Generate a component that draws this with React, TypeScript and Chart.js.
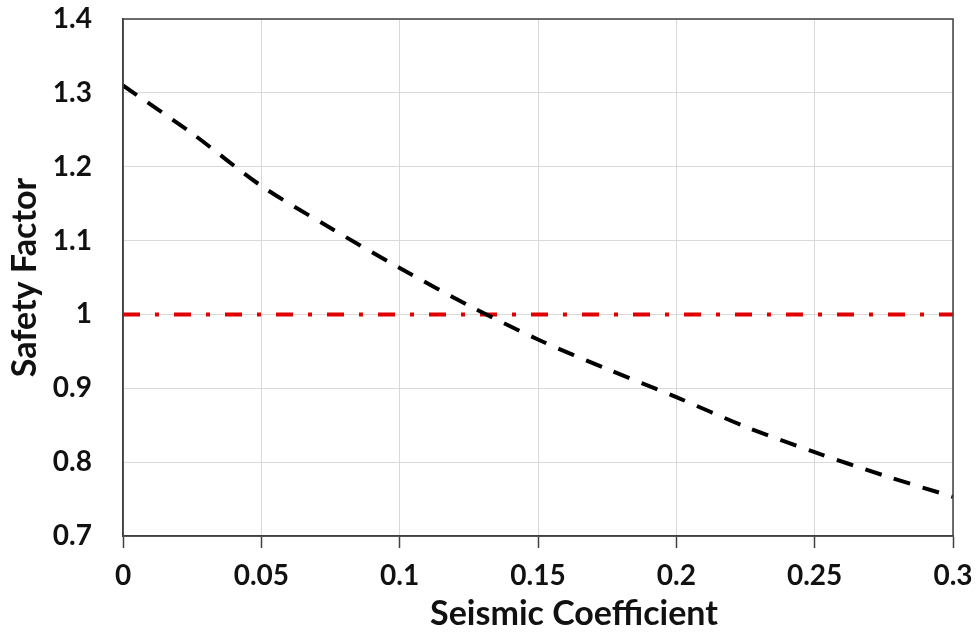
import React, { useEffect, useRef } from "react";
import { Chart, registerables } from "chart.js";

Chart.register(...registerables);

const seismicCoeff = [0, 0.025, 0.05, 0.075, 0.1, 0.125, 0.15, 0.175, 0.2, 0.225, 0.25, 0.275, 0.3];
const safetyFactor = [1.31, 1.245, 1.174, 1.117, 1.063, 1.012, 0.966, 0.926, 0.888, 0.848, 0.8135, 0.782, 0.753];
const thresholdX = [0, 0.3];
const thresholdY = [1, 1];
const xTicks = [0, 0.05, 0.1, 0.15, 0.2, 0.25, 0.3];
const xTickLabels = ["0", "0.05", "0.1", "0.15", "0.2", "0.25", "0.3"];
const yTicks = [0.7, 0.8, 0.9, 1, 1.1, 1.2, 1.3, 1.4];
const yTickLabels = ["0.7", "0.8", "0.9", "1", "1.1", "1.2", "1.3", "1.4"];
const xTitle = "Seismic Coefficient";
const yTitle = "Safety Factor";

const FONT = "Lato, 'Open Sans', sans-serif";
const AXIS_COLOR = "#404040";

export default function App() {
  const ref = useRef<HTMLCanvasElement | null>(null);

  useEffect(() => {
    if (!ref.current) return;
    const frame = {
      id: "frame",
      afterDatasetsDraw(chart: any) {
        const { ctx, chartArea: a } = chart;
        ctx.save();
        ctx.strokeStyle = AXIS_COLOR;
        ctx.lineWidth = 1.5;
        ctx.strokeRect(a.left, a.top, a.right - a.left, a.bottom - a.top);
        ctx.restore();
      },
      afterDraw(chart: any) {
        const { ctx } = chart;
        ctx.save();
        ctx.fillStyle = "#111";
        ctx.font = `bold 34px ${FONT}`;
        ctx.textAlign = "center";
        ctx.textBaseline = "middle";
        ctx.fillText(xTitle, 574, 614);
        ctx.restore();
      },
    };

    const chart = new Chart(ref.current, {
      type: "line",
      data: {
        datasets: [
          {
            label: "Safety Factor",
            data: seismicCoeff.map((x, i) => ({ x, y: safetyFactor[i] })),
            borderColor: "#000",
            borderWidth: 4,
            borderDash: [17, 13],
            borderCapStyle: "butt",
            pointRadius: 0,
            tension: 0.3,
            fill: false,
          },
          {
            label: "FS = 1",
            data: thresholdX.map((x, i) => ({ x, y: thresholdY[i] })),
            borderColor: "#e00000",
            borderWidth: 4,
            borderDash: [17, 15, 4, 15],
            borderCapStyle: "butt",
            pointRadius: 0,
            fill: false,
          },
        ],
      },
      options: {
        animation: false,
        responsive: false,
        layout: { padding: { top: 19, right: 26, left: 0, bottom: 0 } },
        plugins: { legend: { display: false }, tooltip: { enabled: false } },
        scales: {
          x: {
            type: "linear",
            min: 0,
            max: 0.3,
            afterFit(s: any) { s.height = 102; s.paddingLeft = 0; s.paddingRight = 0; },
            afterBuildTicks(s: any) { s.ticks = xTicks.map((v) => ({ value: v })); },
            grid: { color: "#d9d9d9", lineWidth: 1, drawTicks: true, tickLength: 12, tickColor: AXIS_COLOR, tickWidth: 1.5 },
            border: { display: true, color: AXIS_COLOR, width: 1.5 },
            ticks: {
              color: "#111",
              font: { family: FONT, size: 28, weight: "bold" },
              padding: 11,
              maxRotation: 0,
              callback: (v: any) => { const i = xTicks.findIndex((t) => Math.abs(t - v) < 1e-9); return i >= 0 ? xTickLabels[i] : ""; },
            },
            title: { display: false },
          },
          y: {
            type: "linear",
            min: 0.7,
            max: 1.4,
            afterFit(s: any) { s.width = 123; s.paddingTop = 0; s.paddingBottom = 0; },
            afterBuildTicks(s: any) { s.ticks = yTicks.map((v) => ({ value: v })); },
            grid: { color: "#d9d9d9", lineWidth: 1, drawTicks: false },
            border: { display: true, color: AXIS_COLOR, width: 1.5 },
            ticks: {
              color: "#111",
              font: { family: FONT, size: 28, weight: "bold" },
              padding: 31,
              callback: (v: any) => { const i = yTicks.findIndex((t) => Math.abs(t - v) < 1e-9); return i >= 0 ? yTickLabels[i] : ""; },
            },
            title: {
              display: true,
              text: yTitle,
              color: "#111",
              font: { family: FONT, size: 34, weight: "bold" },
              padding: { top: 5, bottom: 0 },
            },
          },
        },
      },
      plugins: [frame],
    } as any);
    return () => chart.destroy();
  }, []);

  return (
    <div style={{ position: "fixed", left: 0, top: 0, width: 979, height: 638, background: "#fff" }}>
      <canvas ref={ref} width={979} height={638} style={{ display: "block", width: 979, height: 638 }} />
    </div>
  );
}
